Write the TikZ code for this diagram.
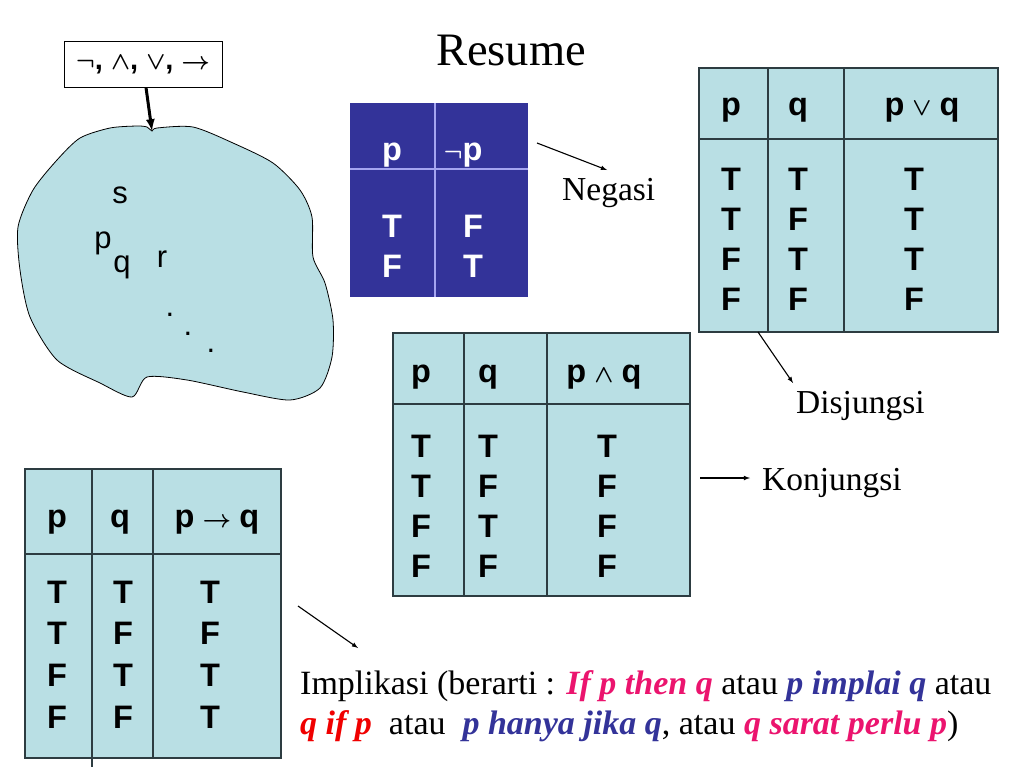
\documentclass[tikz,border=0pt]{standalone}
\usepackage{fontspec}
\setmainfont{Liberation Serif}
\newfontfamily\arialfont{Liberation Sans}
\usetikzlibrary{positioning,arrows}

\definecolor{cellfill}{RGB}{185,223,228}
\definecolor{gridline}{RGB}{45,60,65}
\definecolor{negfill}{RGB}{51,51,153}
\definecolor{negline}{RGB}{165,165,240}
\definecolor{pinktext}{RGB}{235,20,110}
\definecolor{bluetext}{RGB}{51,51,153}
\definecolor{redtext}{RGB}{240,0,0}
\newcommand{\colorword}[2]{{\color{#1}\bfseries\itshape #2}}
\newcommand{\opsep}{\hspace{0.25em}}

\begin{document}
\begin{tikzpicture}[
  x=1pt, y=-1pt,
  tbl/.style={draw=gridline,fill=cellfill,line width=1.2pt},
  gridln/.style={draw=gridline,line width=1.2pt},
  cell/.style={anchor=base,inner sep=0pt,font=\arialfont\bfseries\boldmath\fontsize{32.5}{38}\selectfont},
  negcell/.style={cell,text=white},
  letter/.style={anchor=base,inner sep=0pt,font=\arialfont\fontsize{31}{36}\selectfont},
  lbl/.style={anchor=base west,inner sep=0pt,font=\fontsize{33.5}{40}\selectfont},
  impltext/.style={anchor=base west,inner sep=0pt,font=\fontsize{34}{40}\selectfont},
  pointer/.style={-latex,line width=1.1pt},
  opbox/.style={draw,fill=white,line width=1pt,minimum width=158pt,minimum height=45pt,
    inner sep=0pt,font=\arialfont\bfseries\boldmath\fontsize{29}{32}\selectfont}
]
\useasboundingbox (0,0) rectangle (1024,768);

% title
\node[anchor=base,inner sep=0pt,font=\fontsize{46.5}{52}\selectfont] (title) at (511,66) {Resume};

% universe of propositions
\draw[fill=cellfill,line width=0.8pt] plot[smooth cycle,tension=0.45] coordinates {
  (152,131) (157,128) (193,127) (233,143) (273,163) (300,190) (312,217)
  (313,257) (325,283) (333,320) (332,357) (320,388) (290,400) (243,392)
  (187,380) (147,377) (132,397) (100,383) (57,360) (30,317) (20,270)
  (18,227) (33,190) (57,160) (80,138) (110,128) (137,126) (147,127)};
\coordinate (notch) at (152,131);
\node[letter] (s) at (120,203) {s};
\node[letter] (p) at (103,248) {p};
\node[letter] (q) at (122,272) {q};
\node[letter] (r) at (162,267) {r};
\node[letter] (d1) at (170,316) {.};
\node[letter] (d2) at (188,335) {.};
\node[letter] (d3) at (211,352) {.};

\node[opbox] (ops) at (143,64.5) {$\neg$, $\wedge$, $\vee$, $\rightarrow$};
\draw[line width=3pt,-latex] ([xshift=3pt]ops.south) -- (notch);

% negation
\fill[negfill] (350,103) rectangle (528,297);
\draw[negline,line width=1.2pt] (435,103) -- (435,297) (350,169) -- (528,169);
\node[negcell] (neg-h1) at (392,160) {p};
\node[negcell] (neg-h2) at (463,160) {$\neg$p};
\foreach \a/\b [count=\i from 0] in {T/F,F/T}{
  \node[negcell] (neg-\i-a) at (392,237+40*\i) {\a};
  \node[negcell] (neg-\i-b) at (473,237+40*\i) {\b};
}
\coordinate (negfrom) at (537,143);
\coordinate (negto) at (607,170);
\path (negfrom) edge[pointer] (negto);
\node[lbl] (negasi) at (562,200) {Negasi};

% disjunction
\draw[tbl] (699,68) rectangle (998,332);
\draw[gridln] (768,68) -- (768,332) (844,68) -- (844,332) (699,139) -- (998,139);
\node[cell] (disj-h1) at (731,115) {p};
\node[cell] (disj-h2) at (798,115) {q};
\node[cell] (disj-h3) at (922,115) {p\opsep$\vee$\opsep q};
\foreach \a/\b/\c [count=\i from 0] in {T/T/T,T/F/T,F/T/T,F/F/F}{
  \node[cell] (disj-\i-a) at (731,190+40*\i) {\a};
  \node[cell] (disj-\i-b) at (798,190+40*\i) {\b};
  \node[cell] (disj-\i-c) at (914,190+40*\i) {\c};
}
\coordinate (disjfrom) at (758,332);
\coordinate (disjto) at (793,383);
\path (disjfrom) edge[pointer] (disjto);
\node[lbl] (disjungsi) at (796,413) {Disjungsi};

% conjunction
\draw[tbl] (393,333) rectangle (690,596);
\draw[gridln] (464,333) -- (464,596) (547,333) -- (547,596) (393,404) -- (690,404);
\node[cell] (conj-h1) at (421,382) {p};
\node[cell] (conj-h2) at (488,382) {q};
\node[cell] (conj-h3) at (604,382) {p\opsep$\wedge$\opsep q};
\foreach \a/\b/\c [count=\i from 0] in {T/T/T,T/F/F,F/T/F,F/F/F}{
  \node[cell] (conj-\i-a) at (421,457+40.3*\i) {\a};
  \node[cell] (conj-\i-b) at (488,457+40.3*\i) {\b};
  \node[cell] (conj-\i-c) at (607,457+40.3*\i) {\c};
}
\coordinate (conjfrom) at (700,478);
\coordinate (conjto) at (750,478);
\path (conjfrom) edge[pointer] (conjto);
\node[lbl] (konjungsi) at (762,490) {Konjungsi};

% implication
\draw[tbl] (25,469) rectangle (281,758);
\draw[gridln] (92,469) -- (92,767) (153,469) -- (153,758) (25,554) -- (281,554);
\node[cell] (impl-h1) at (57,527) {p};
\node[cell] (impl-h2) at (120,527) {q};
\node[cell] (impl-h3) at (217,527) {p\opsep$\rightarrow$\opsep q};
\foreach \a/\b/\c [count=\i from 0] in {T/T/T,T/F/F,F/T/T,F/F/T}{
  \node[cell] (impl-\i-a) at (57,603+41.7*\i) {\a};
  \node[cell] (impl-\i-b) at (123,603+41.7*\i) {\b};
  \node[cell] (impl-\i-c) at (210,603+41.7*\i) {\c};
}
\coordinate (implfrom) at (298,606);
\coordinate (implto) at (358,648);
\path (implfrom) edge[pointer] (implto);
\node[impltext] (implikasi) at (300,694) {Implikasi (berarti : \colorword{pinktext}{If p then q} atau \colorword{bluetext}{p implai q} atau};
\node[impltext] (meaning) at (300,734) {\colorword{redtext}{q if p}\ \ atau\ \ \colorword{bluetext}{p hanya jika q}, atau \colorword{pinktext}{q sarat perlu p})};

\end{tikzpicture}
\end{document}
